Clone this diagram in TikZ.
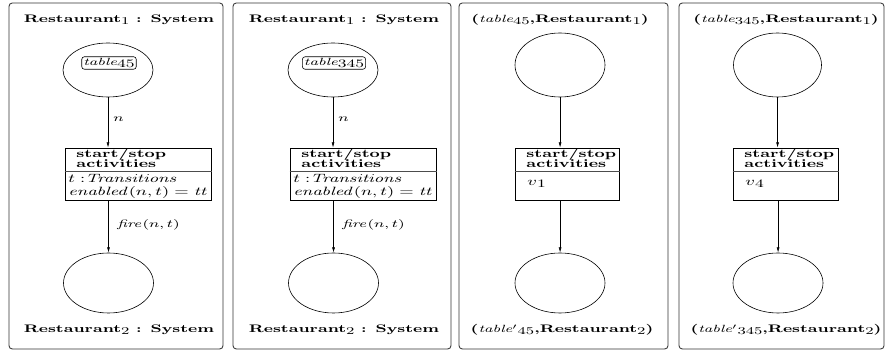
\documentclass[tikz,border=0pt]{standalone}
\usetikzlibrary{shapes.geometric,arrows.meta,calc}
\newcommand\tbl{{\fontsize{7.8}{8}\selectfont\mdseries\itshape table}}
\newcommand\lo[2][7.8]{\raisebox{-0.35ex}{\fontsize{#1}{#1}\selectfont\mdseries\upshape #2}}
\begin{document}
\begin{tikzpicture}[xscale=1.5,x=0.5pt,y=-0.75pt,
  every node/.style={transform shape},
  panel/.style={draw=black!80,rounded corners=2.5pt,line width=0.65pt},
  place/.style={draw,ellipse,inner sep=0pt,line width=0.45pt,minimum width=45pt},
  trans/.style={draw,rectangle,inner sep=0pt,line width=0.5pt,minimum height=39pt},
  ttl/.style={inner sep=0pt,anchor=base,font=\fontsize{8.2}{10}\selectfont\bfseries},
  hdr/.style={inner sep=0pt,anchor=base west,font=\fontsize{8.6}{9}\selectfont\bfseries},
  body/.style={inner sep=0pt,anchor=base west,font=\fontsize{9.5}{10}\selectfont},
  lbl/.style={inner sep=0pt,anchor=base west,font=\fontsize{7.8}{8}\selectfont},
  tok/.style={draw,rounded corners=2pt,inner xsep=0.8pt,inner ysep=1.2pt,line width=0.45pt,font=\fontsize{9}{9}\selectfont},
  arr/.style={-{Latex[length=4pt,width=2.2pt]},line width=0.45pt},
  div/.style={line width=0.4pt,draw=black!70}]
\useasboundingbox (0,0) rectangle (886,352);

% ---------- panel 1
\draw[panel] (9,3) rectangle (223,349);
\node[ttl] (p1t) at (119,23) {Restaurant\lo{1} : System};
\node[place,minimum height=40.5pt] (p1a) at (108,70) {};
\node[tok] (p1k) at (109,63) {\tbl\lo[8.5]{45}};
\node[trans,minimum width=73pt] (p1b) at (138,174) {};
\draw[div] ($(p1b.north west)+(0,24)$) -- ($(p1b.north east)+(0,24)$);
\node[hdr] (p1h1) at (76,158) {start/stop};
\node[hdr] (p1h2) at (76,168) {activities};
\node[body] (p1g1) at (68,183) {$t\;{:}\mathit{Transitions}$};
\node[body] (p1g2) at (68,196) {$\mathit{enabled}(n,t) = \mathit{tt}$};
\node[place,minimum height=45pt] (p1c) at (108.5,283) {};
\node[ttl] (p1u) at (119,333) {Restaurant\lo{2} : System};
\draw[arr] (p1a.south) -- (p1a.south |- p1b.north);
\draw[arr] (p1c.north |- p1b.south) -- (p1c.north);
\node[lbl] (p1n) at (113,122) {$n$};
\node[lbl] (p1f) at (117,228) {$\mathit{fire}(n,t)$};

% ---------- panel 2
\draw[panel] (233,3) rectangle (451,349);
\node[ttl] (p2t) at (344,23) {Restaurant\lo{1} : System};
\node[place,minimum height=40.5pt] (p2a) at (333,70) {};
\node[tok] (p2k) at (334,63) {\tbl\lo[8.5]{345}};
\node[trans,minimum width=73pt] (p2b) at (363,174) {};
\draw[div] ($(p2b.north west)+(0,24)$) -- ($(p2b.north east)+(0,24)$);
\node[hdr] (p2h1) at (301,158) {start/stop};
\node[hdr] (p2h2) at (301,168) {activities};
\node[body] (p2g1) at (293,183) {$t\;{:}\mathit{Transitions}$};
\node[body] (p2g2) at (293,196) {$\mathit{enabled}(n,t) = \mathit{tt}$};
\node[place,minimum height=45pt] (p2c) at (333.5,283) {};
\node[ttl] (p2u) at (344,333) {Restaurant\lo{2} : System};
\draw[arr] (p2a.south) -- (p2a.south |- p2b.north);
\draw[arr] (p2c.north |- p2b.south) -- (p2c.north);
\node[lbl] (p2n) at (338,122) {$n$};
\node[lbl] (p2f) at (342,228) {$\mathit{fire}(n,t)$};

% ---------- panel 3
\draw[panel] (459,3) rectangle (668,349);
\node[ttl] (p3t) at (560,23) {(\tbl\lo{45},Restaurant\lo{1})};
\node[place,minimum height=48pt] (p3a) at (560,65) {};
\node[trans,minimum width=52pt] (p3b) at (567,174) {};
\draw[div] ($(p3b.north west)+(0,24)$) -- ($(p3b.north east)+(0,24)$);
\node[hdr] (p3h1) at (526,158) {start/stop};
\node[hdr] (p3h2) at (526,168) {activities};
\node[body] (p3g1) at (527,186) {$v$\lo[8.5]{1}};
\node[place,minimum height=45pt] (p3c) at (560,283) {};
\node[ttl] (p3u) at (562,333) {(\tbl$^\prime$\lo{45},Restaurant\lo{2})};
\draw[arr] (p3a.south) -- (p3a.south |- p3b.north);
\draw[arr] (p3c.north |- p3b.south) -- (p3c.north);

% ---------- panel 4
\draw[panel] (679,3) rectangle (884,349);
\node[ttl] (p4t) at (786,23) {(\tbl\lo{345},Restaurant\lo{1})};
\node[place,minimum width=44pt,minimum height=48pt] (p4a) at (777.5,65) {};
\node[trans,minimum width=52.5pt] (p4b) at (785.5,174) {};
\draw[div] ($(p4b.north west)+(0,24)$) -- ($(p4b.north east)+(0,24)$);
\node[hdr] (p4h1) at (744,158) {start/stop};
\node[hdr] (p4h2) at (744,168) {activities};
\node[body] (p4g1) at (745,186) {$v$\lo[8.5]{4}};
\node[place,minimum height=45pt] (p4c) at (778,283) {};
\node[ttl] (p4u) at (786,333) {(\tbl$^\prime$\lo{345},Restaurant\lo{2})};
\draw[arr] (p4a.south) -- (p4a.south |- p4b.north);
\draw[arr] (p4c.north |- p4b.south) -- (p4c.north);
\end{tikzpicture}
\end{document}
